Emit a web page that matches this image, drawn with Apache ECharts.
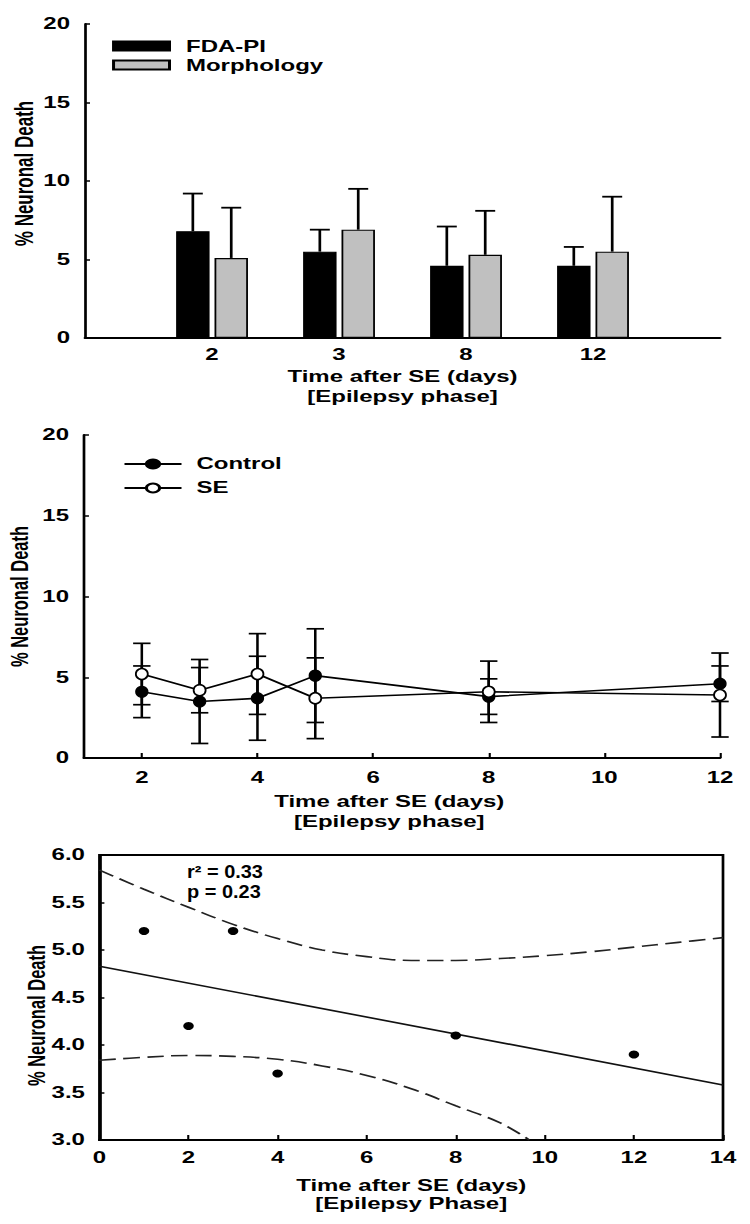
<!DOCTYPE html>
<html><head><meta charset="utf-8">
<script src="https://cdn.jsdelivr.net/npm/echarts@6/dist/echarts.min.js"></script>
<style>
html,body{margin:0;padding:0;background:#fff;overflow:hidden;}
#chart{width:500px;height:1224px;transform:scaleX(1.5);transform-origin:0 0;}
</style>
</head><body><div id="chart"></div>
<script>
// ---- data ----
const barDays = ['2', '3', '8', '12'];
const fdaMean = [6.8, 5.5, 4.6, 4.6];
const fdaErr = [2.4, 1.4, 2.5, 1.2];
const morphMean = [5.1, 6.9, 5.3, 5.5];
const morphErr = [3.2, 2.6, 2.8, 3.5];

const lineDays = [2, 3, 4, 5, 8, 12];
const lineTicks = [2, 4, 6, 8, 10, 12];
const controlMean = [4.1, 3.5, 3.7, 5.1, 3.8, 4.6];
const controlErr = [1.6, 2.6, 2.6, 2.9, 1.1, 1.1];
const seMean = [5.2, 4.2, 5.2, 3.7, 4.1, 3.9];
const seErr = [1.9, 1.4, 2.5, 2.5, 1.9, 2.6];

const regDays = [1, 2, 3, 4, 8, 12];
const regValues = [5.2, 4.2, 5.2, 3.7, 4.1, 3.9];
const fitX = [0, 14];
const fitY = [4.83, 3.58];
const upperX = [0, 1, 2, 3, 4, 5, 6, 7, 8, 9, 10, 11, 12, 13, 14];
const upperY = [5.84, 5.64, 5.45, 5.27, 5.12, 5.00, 4.93, 4.89, 4.89, 4.91, 4.94, 4.98, 5.03, 5.08, 5.13];
const lowerX = [0, 1, 2, 3, 4, 5, 6, 7, 8, 9, 9.65];
const lowerY = [3.84, 3.87, 3.89, 3.88, 3.85, 3.78, 3.68, 3.54, 3.36, 3.18, 3.0];
const statLines = ['r\u00B2 = 0.33', 'p = 0.23'];

const xTitle1 = 'Time after SE (days)\n[Epilepsy phase]';
const xTitle3 = 'Time after SE (days)\n[Epilepsy Phase]';
const yTitle = '% Neuronal Death';

// ---- style ----
const FONT = '"Liberation Sans", Arial, Helvetica, sans-serif';
const BAR_W = 22.3, BAR_GAP = 3.3;
const BAR_OFF = (BAR_W + BAR_GAP) / 2;
const CAP_BAR = 13.3, CAP_LINE = 11.6;

const chart = echarts.init(document.getElementById('chart'), null, {renderer: 'svg', width: 500, height: 1224});

const tickLabel = {fontFamily: FONT, fontWeight: 'bold', fontSize: 16, color: '#000'};
const nameStyle = {fontFamily: FONT, fontWeight: 'bold', fontSize: 16, color: '#000'};
const yNameStyle = {fontFamily: FONT, fontWeight: 'bold', fontSize: 16.5, color: '#000'};

function barErr(offset) {
  return function (params, api) {
    const x = api.value(0), lo = api.value(1), hi = api.value(2);
    const t = api.coord([x, hi]), b = api.coord([x, lo]);
    const cx = t[0] + offset, hw = CAP_BAR / 2;
    return {type: 'group', children: [
      {type: 'line', shape: {x1: cx, y1: b[1], x2: cx, y2: t[1]}, style: {stroke: '#000', lineWidth: 1.8}},
      {type: 'line', shape: {x1: cx - hw, y1: t[1], x2: cx + hw, y2: t[1]}, style: {stroke: '#000', lineWidth: 1.8}}
    ]};
  };
}
function lineErr(params, api) {
  const x = api.value(0), m = api.value(1), e = api.value(2);
  const t = api.coord([x, m + e]), b = api.coord([x, m - e]);
  const hw = CAP_LINE / 2;
  const st = {stroke: '#000', lineWidth: 1.7};
  return {type: 'group', children: [
    {type: 'line', shape: {x1: t[0], y1: b[1], x2: t[0], y2: t[1]}, style: st},
    {type: 'line', shape: {x1: t[0] - hw, y1: t[1], x2: t[0] + hw, y2: t[1]}, style: st},
    {type: 'line', shape: {x1: t[0] - hw, y1: b[1], x2: t[0] + hw, y2: b[1]}, style: st}
  ]};
}

const option = {
  animation: false,
  backgroundColor: '#fff',
  grid: [
    {left: 56.7, right: 20, top: 24, bottom: 886, containLabel: false, outerBoundsMode: 'none'},
    {left: 56, right: 20, top: 435, bottom: 466, containLabel: false, outerBoundsMode: 'none'},
    {left: 66.3, right: 18, top: 855, bottom: 84, containLabel: false, outerBoundsMode: 'none',
     show: true, borderColor: '#000', borderWidth: 1.8, backgroundColor: 'transparent'}
  ],
  legend: [
    {data: ['FDA-PI', 'Morphology'], orient: 'vertical', left: 74.7, top: 38, padding: 0, itemWidth: 37.3, itemHeight: 9, itemGap: 3,
     icon: 'rect', selectedMode: false, textStyle: Object.assign({}, nameStyle, {padding: [0, 0, 0, 6]})},
    {data: ['Control', 'SE'], orient: 'vertical', left: 82, top: 456, padding: 0, itemWidth: 38, itemHeight: 11, itemGap: 8,
     selectedMode: false, textStyle: Object.assign({}, nameStyle, {padding: [0, 0, 0, 5]})}
  ],
  xAxis: [
    {type: 'value', gridIndex: 0, min: 0, max: 5, interval: 1,
     axisLine: {show: true, lineStyle: {color: '#000', width: 2}}, axisTick: {show: false}, splitLine: {show: false},
     axisLabel: Object.assign({}, tickLabel, {margin: 9, formatter: v => barDays[v - 1] || ''}),
     name: xTitle1, nameLocation: 'middle', nameGap: 29, nameMoveOverlap: false,
     nameTextStyle: Object.assign({}, nameStyle, {lineHeight: 20})},
    {type: 'value', gridIndex: 1, min: 1, max: 12,
     axisLine: {show: true, lineStyle: {color: '#000', width: 2}},
     axisTick: {show: true, inside: true, length: 5, lineStyle: {color: '#000', width: 1.4}, customValues: lineTicks},
     splitLine: {show: false},
     axisLabel: Object.assign({}, tickLabel, {margin: 12, customValues: lineTicks}),
     name: xTitle1, nameLocation: 'middle', nameGap: 34, nameMoveOverlap: false,
     nameTextStyle: Object.assign({}, nameStyle, {lineHeight: 20, padding: [0, 17, 0, 0]})},
    {type: 'value', gridIndex: 2, min: 0, max: 14, interval: 2,
     axisLine: {show: true, lineStyle: {color: '#000', width: 2}},
     axisTick: {show: true, inside: true, length: 5, lineStyle: {color: '#000', width: 1.4}},
     splitLine: {show: false},
     axisLabel: Object.assign({}, tickLabel, {margin: 10}),
     name: xTitle3, nameLocation: 'middle', nameGap: 37, nameMoveOverlap: false,
     nameTextStyle: Object.assign({}, nameStyle, {lineHeight: 18})}
  ],
  yAxis: [
    {type: 'value', gridIndex: 0, min: 0, max: 20, interval: 5,
     axisLine: {show: true, lineStyle: {color: '#000', width: 1.8}},
     axisTick: {show: true, inside: true, length: 3.3, lineStyle: {color: '#000', width: 1.5}},
     splitLine: {show: false}, axisLabel: Object.assign({}, tickLabel, {margin: 10}),
     name: yTitle, nameLocation: 'middle', nameGap: 32, nameMoveOverlap: false,
     nameTextStyle: Object.assign({}, yNameStyle, {fontSize: 17, padding: [0, 0, 0, 15]})},
    {type: 'value', gridIndex: 1, min: 0, max: 20, interval: 5,
     axisLine: {show: true, lineStyle: {color: '#000', width: 1.8}},
     axisTick: {show: true, inside: true, length: 3.3, lineStyle: {color: '#000', width: 1.5}},
     splitLine: {show: false}, axisLabel: Object.assign({}, tickLabel, {margin: 10}),
     name: yTitle, nameLocation: 'middle', nameGap: 35, nameMoveOverlap: false, nameTextStyle: yNameStyle},
    {type: 'value', gridIndex: 2, min: 3, max: 6, interval: 0.5,
     axisLine: {show: true, lineStyle: {color: '#000', width: 1.8}},
     axisTick: {show: true, inside: true, length: 3.3, lineStyle: {color: '#000', width: 1.5}},
     splitLine: {show: false}, axisLabel: Object.assign({}, tickLabel, {margin: 9.7, formatter: v => v.toFixed(1)}),
     name: yTitle, nameLocation: 'middle', nameGap: 34, nameMoveOverlap: false,
     nameTextStyle: Object.assign({}, yNameStyle, {padding: [0, 36, 0, 0]})}
  ],
  graphic: [
    {type: 'text', x: 124.7, y: 862, scaleX: 0.76, z: 100,
     style: {text: statLines.join('\n'), fontFamily: FONT, fontWeight: 'bold', fontSize: 17.5, lineHeight: 20, fill: '#000', verticalAlign: 'top'}}
  ],
  series: [
    {type: 'bar', name: 'FDA-PI', xAxisIndex: 0, yAxisIndex: 0, barWidth: BAR_W, barGap: (BAR_GAP / BAR_W * 100) + '%',
     data: fdaMean.map((v, i) => [i + 1, v]), itemStyle: {color: '#000', borderColor: '#000', borderWidth: 1.2}, z: 3},
    {type: 'bar', name: 'Morphology', xAxisIndex: 0, yAxisIndex: 0, barWidth: BAR_W, barGap: (BAR_GAP / BAR_W * 100) + '%',
     data: morphMean.map((v, i) => [i + 1, v]), itemStyle: {color: '#c0c0c0', borderColor: '#000', borderWidth: 1.2}, z: 3},
    {type: 'custom', name: 'FDA-PI err', xAxisIndex: 0, yAxisIndex: 0, renderItem: barErr(-BAR_OFF), z: 2,
     data: fdaMean.map((v, i) => [i + 1, v, v + fdaErr[i]])},
    {type: 'custom', name: 'Morphology err', xAxisIndex: 0, yAxisIndex: 0, renderItem: barErr(BAR_OFF), z: 2,
     data: morphMean.map((v, i) => [i + 1, v, v + morphErr[i]])},

    {type: 'custom', name: 'Control err', xAxisIndex: 1, yAxisIndex: 1, renderItem: lineErr, z: 2,
     data: lineDays.map((d, i) => [d, controlMean[i], controlErr[i]])},
    {type: 'custom', name: 'SE err', xAxisIndex: 1, yAxisIndex: 1, renderItem: lineErr, z: 2,
     data: lineDays.map((d, i) => [d, seMean[i], seErr[i]])},
    {type: 'line', name: 'Control', xAxisIndex: 1, yAxisIndex: 1, data: lineDays.map((d, i) => [d, controlMean[i]]),
     symbol: 'circle', symbolSize: [8, 11], itemStyle: {color: '#000', borderColor: '#000', borderWidth: 1},
     lineStyle: {color: '#000', width: 1.6}, z: 4},
    {type: 'line', name: 'SE', xAxisIndex: 1, yAxisIndex: 1, data: lineDays.map((d, i) => [d, seMean[i]]),
     symbol: 'circle', symbolSize: [8, 11], itemStyle: {color: '#fff', borderColor: '#000', borderWidth: 1.4},
     lineStyle: {color: '#000', width: 1.6}, z: 5},

    {type: 'line', name: 'Upper band', xAxisIndex: 2, yAxisIndex: 2, data: upperX.map((x, i) => [x, upperY[i]]),
     smooth: 0.4, showSymbol: false, lineStyle: {color: '#222', width: 1.6, type: [11, 5]}, z: 2},
    {type: 'line', name: 'Lower band', xAxisIndex: 2, yAxisIndex: 2, data: lowerX.map((x, i) => [x, lowerY[i]]),
     smooth: 0.4, showSymbol: false, lineStyle: {color: '#222', width: 1.6, type: [11, 5]}, z: 2},
    {type: 'line', name: 'Fit', xAxisIndex: 2, yAxisIndex: 2, data: fitX.map((x, i) => [x, fitY[i]]),
     showSymbol: false, lineStyle: {color: '#111', width: 1.6}, z: 2},
    {type: 'scatter', name: 'SE points', xAxisIndex: 2, yAxisIndex: 2, data: regDays.map((d, i) => [d, regValues[i]]),
     symbol: 'circle', symbolSize: [7, 8], itemStyle: {color: '#000', opacity: 1}, z: 4}
  ]
};
chart.setOption(option);
</script>
</body></html>
